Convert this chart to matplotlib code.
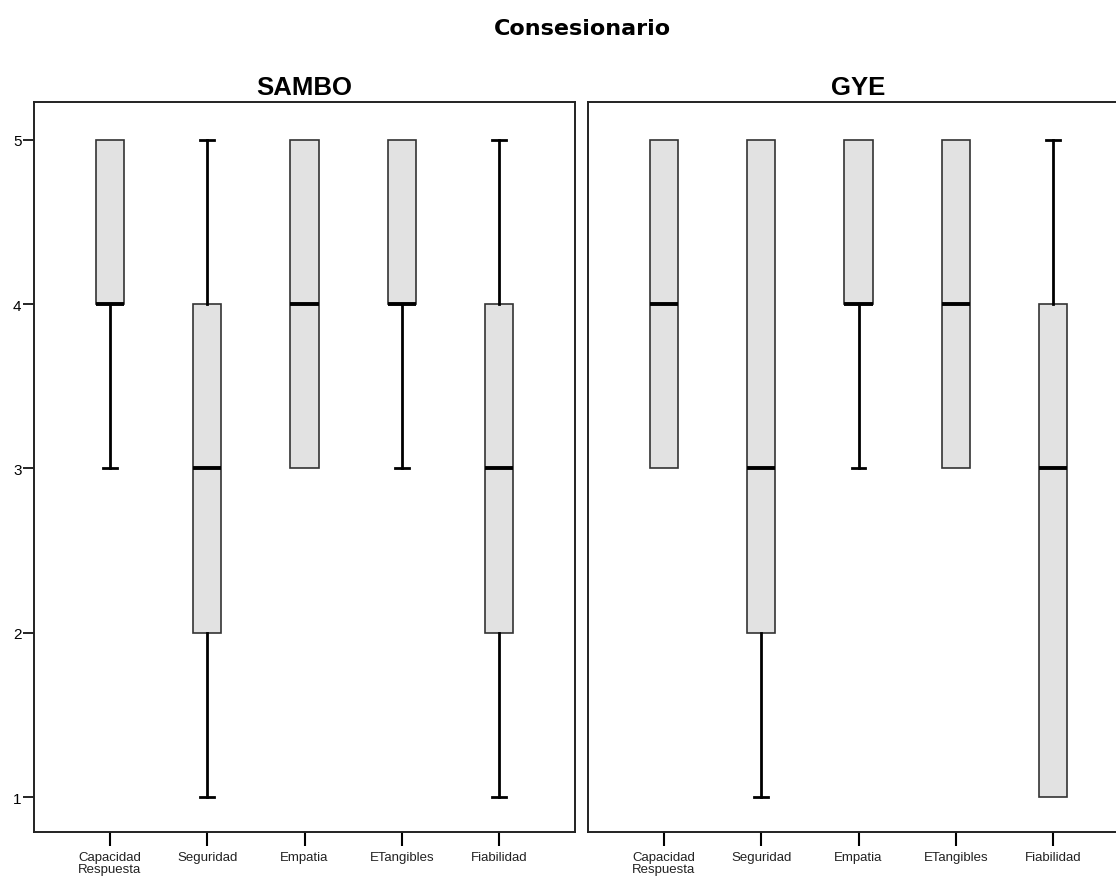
import matplotlib
matplotlib.use("Agg")
import matplotlib.pyplot as plt

plt.rcParams['font.family'] = ['Liberation Sans', 'DejaVu Sans']

categories = ["Capacidad\nRespuesta", "Seguridad", "Empatia", "ETangibles", "Fiabilidad"]
panels = ["SAMBO", "GYE"]

# SAMBO
sambo_whislo = [3, 1, 3, 3, 1]
sambo_q1 = [4, 2, 3, 4, 2]
sambo_med = [4, 3, 4, 4, 3]
sambo_q3 = [5, 4, 5, 5, 4]
sambo_whishi = [5, 5, 5, 5, 5]

# GYE
gye_whislo = [3, 1, 3, 3, 1]
gye_q1 = [3, 2, 4, 3, 1]
gye_med = [4, 3, 4, 4, 3]
gye_q3 = [5, 5, 5, 5, 4]
gye_whishi = [5, 5, 5, 5, 5]

data = {
    "SAMBO": (sambo_whislo, sambo_q1, sambo_med, sambo_q3, sambo_whishi),
    "GYE": (gye_whislo, gye_q1, gye_med, gye_q3, gye_whishi),
}

W, H = 1116, 878
fig = plt.figure(figsize=(W / 100, H / 100), dpi=100)

def px_axes(left, top, right, bottom):
    return fig.add_axes([left / W, (H - bottom) / H, (right - left) / W, (bottom - top) / H])

axes = [px_axes(34, 103, 575, 833), px_axes(588, 103, 1129, 833)]

fig.text(582 / W, 1 - 29 / H, "Consesionario", ha="center", va="center",
         fontsize=16, fontweight="bold", family="DejaVu Sans")

for i, (ax, name) in enumerate(zip(axes, panels)):
    wl, q1, md, q3, wh = data[name]
    stats = []
    for k in range(len(categories)):
        stats.append(dict(whislo=wl[k], q1=q1[k], med=md[k], q3=q3[k], whishi=wh[k], fliers=[]))
    res = ax.bxp(stats, positions=list(range(len(categories))), widths=0.29,
                 patch_artist=True, showfliers=False,
                 boxprops=dict(facecolor="#e2e2e2", edgecolor="#333333", linewidth=1.2),
                 medianprops=dict(color="black", linewidth=2.8, solid_capstyle="butt"),
                 whiskerprops=dict(color="black", linewidth=2.0),
                 capprops=dict(color="black", linewidth=2.0),
                 capwidths=0.14)
    # hide caps where the whisker has zero length
    for k in range(len(categories)):
        lo_cap, hi_cap = res["caps"][2 * k], res["caps"][2 * k + 1]
        if wl[k] == q1[k]:
            lo_cap.set_visible(False)
        if wh[k] == q3[k]:
            hi_cap.set_visible(False)
    ax.set_xlim(-0.78, 4.78)
    ax.set_ylim(0.787, 5.23)
    ax.set_xticks(range(len(categories)))
    ax.set_xticklabels(categories, fontsize=9.5, linespacing=1.0, color="#222222")
    ax.tick_params(axis="x", length=10, width=1.5, color="black", pad=4)
    for s in ax.spines.values():
        s.set_linewidth(1.4)
        s.set_color("#222222")
    if i == 0:
        ax.set_yticks([1, 2, 3, 4, 5])
        ax.set_yticklabels(["1", "2", "3", "4", "5"], fontsize=11)
        ax.tick_params(axis="y", length=8, width=1.2, pad=1)
    else:
        ax.set_yticks([])
    ax.set_title(name, fontsize=18.5, fontweight="bold", pad=6)

fig.savefig("out.png", dpi=100)
